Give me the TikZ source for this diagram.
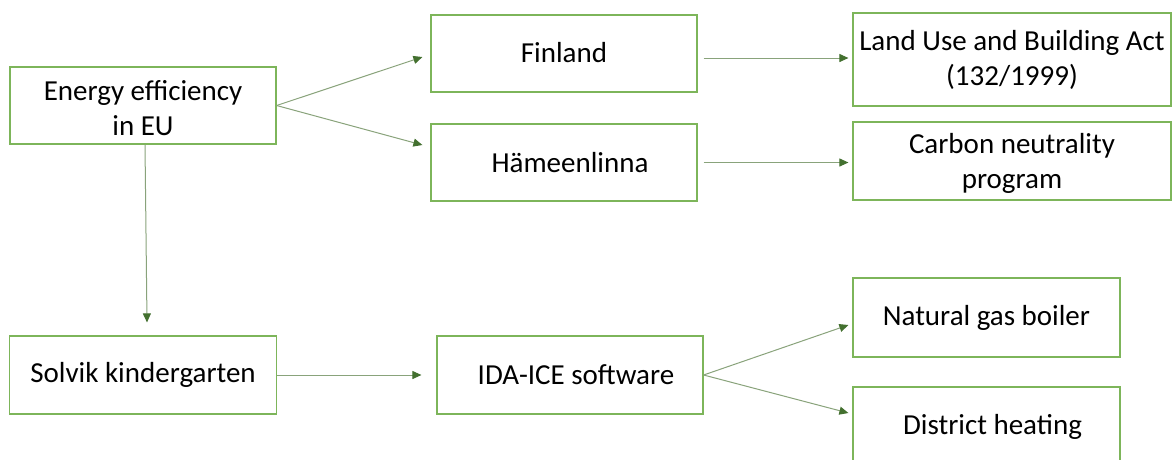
\documentclass[tikz,border=0pt]{standalone}
\usepackage{fontspec}
\setmainfont{Carlito}
\usetikzlibrary{arrows.meta}
\definecolor{boxgreen}{HTML}{7DB55A}
\definecolor{linegreen}{HTML}{89A37B}
\definecolor{headgreen}{HTML}{43702F}
\newcommand{\lowered}[2]{\raisebox{#1}[\height][\depth]{\begin{tabular}{@{}c@{}}#2\end{tabular}}}
\tikzset{
  box/.style={draw=boxgreen, line width=1.2pt, fill=white, align=center, inner sep=0pt,
    font=\fontsize{29}{35}\selectfont, text=black},
  conn/.style={draw=linegreen, line width=1pt,
    -{Triangle[length=9pt,width=8pt,color=headgreen]}},
}
\begin{document}
\begin{tikzpicture}[x=1pt,y=-1pt]
\clip (0,0) rectangle (1176,459);
\fill[white] (0,0) rectangle (1176,459);
\node[box, minimum width=266pt, minimum height=77pt] (e) at (143,105.5) {\lowered{-5pt}{Energy efficiency\\in EU}};
\node[box, minimum width=266pt, minimum height=77pt] (fin) at (564,53.5) {\lowered{-2pt}{Finland}};
\node[box, minimum width=266pt, minimum height=77pt] (ham) at (564,162.5) {\hspace{12pt}Hämeenlinna};
\node[box, minimum width=318pt, minimum height=93pt] (land) at (1012,59.5) {Land Use and Building Act\\(132/1999)};
\node[box, minimum width=318pt, minimum height=78pt] (car) at (1012,161) {\lowered{-3pt}{Carbon neutrality\\program}};
\node[box, minimum width=267pt, minimum height=78pt] (sol) at (143,375) {Solvik kindergarten};
\node[box, minimum width=266pt, minimum height=78pt] (ida) at (570,375) {\hspace{12pt}IDA-ICE software};
\node[box, minimum width=267pt, minimum height=79pt] (nat) at (986.5,317.5) {Natural gas boiler};
\node[box, minimum width=267pt, minimum height=79pt] (dis) at (986.5,426.5) {\hspace{12pt}District heating};

\draw[conn] (e.east) -- ([xshift=-8pt,yshift=-3.5pt]fin.west);
\draw[conn] (e.east) -- ([xshift=-8pt,yshift=17.5pt]ham.west);
\draw[conn] ([xshift=2pt]e.south) -- ([xshift=4pt,yshift=13pt]sol.north);
\draw[conn] ([xshift=6pt,yshift=-4.5pt]fin.east) -- ([xshift=-4pt,yshift=1.5pt]land.west);
\draw[conn] ([xshift=6pt]ham.east) -- ([xshift=-4pt]ham.east -| car.west);
\draw[conn] (sol.east) -- ([xshift=-15pt]ida.west);
\draw[conn] (ida.east) -- ([xshift=-4pt,yshift=-7.5pt]nat.west);
\draw[conn] (ida.east) -- ([xshift=-4pt,yshift=13.5pt]dis.west);
\end{tikzpicture}
\end{document}
